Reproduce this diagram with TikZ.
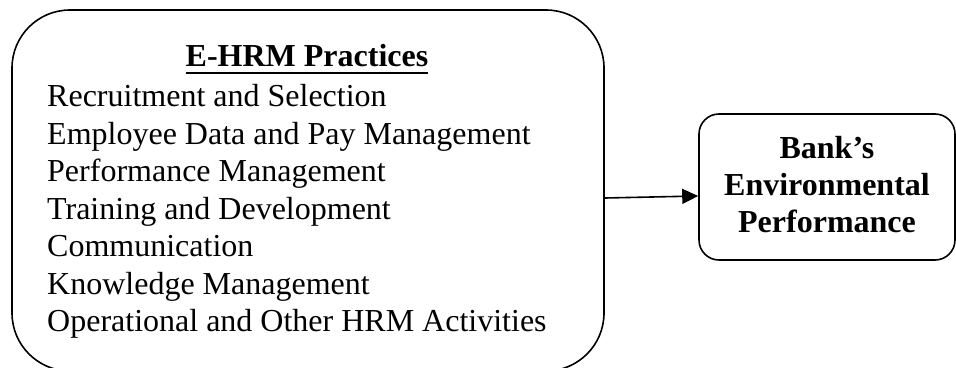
\documentclass[tikz,border=0pt]{standalone}
\usepackage{fontspec}
\setmainfont{Liberation Serif}
\usetikzlibrary{arrows.meta}
\begin{document}
\begin{tikzpicture}[x=1pt,y=-1pt,
  boxline/.style={draw=black,line width=1.6pt},
  itemtext/.style={anchor=base west,inner sep=0pt,font=\fontsize{32}{37.5}\selectfont},
  titletext/.style={anchor=base,inner sep=0pt,font=\fontsize{32}{37.5}\selectfont\bfseries},
  conn/.style={line width=1.6pt,-{Triangle[length=16pt,width=15pt]}}]
\useasboundingbox (0,0) rectangle (956,367);
\clip (0,0) rectangle (956,367);
% left box
\node[boxline,rounded corners=58pt,minimum width=592pt,minimum height=361pt,inner sep=0pt] (ehrm) at (308,190.5) {};
\node[titletext] (title) at (307,66) {E-HRM Practices};
\draw[line width=2.6pt] ([yshift=-7pt]title.base west) -- ([yshift=-7pt]title.base east);
\foreach \t [count=\i from 0] in {Recruitment and Selection,Employee Data and Pay Management,Performance Management,Training and Development,Communication,Knowledge Management,Operational and Other HRM Activities}
  \node[itemtext] (item\i) at (47,106.5+37.5*\i) {\t};
% right box
\node[boxline,rounded corners=20pt,minimum width=256pt,minimum height=146pt,inner sep=0pt] (bank) at (827,187) {};
\node[align=center,inner sep=0pt,font=\fontsize{32}{37}\selectfont\bfseries] (banktext) at (827,185) {Bank’s\\Environmental\\Performance};
% connector
\draw[conn] ([yshift=-7.5pt]ehrm.east) -- ([yshift=-9pt]bank.west);
\end{tikzpicture}
\end{document}
